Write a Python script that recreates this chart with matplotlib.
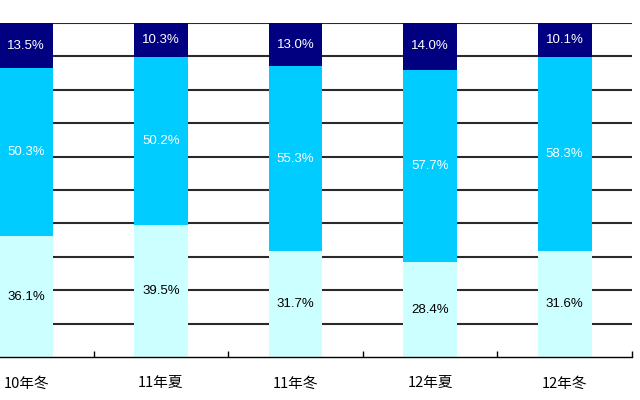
import matplotlib
matplotlib.use('Agg')
import matplotlib.pyplot as plt
import numpy as np

plt.rcParams['font.family'] = ['Noto Sans CJK JP', 'DejaVu Sans']

# データ（%）
categories = ['10年冬', '11年夏', '11年冬', '12年夏', '12年冬']
bottom_vals = [36.1, 39.5, 31.7, 28.4, 31.6]
middle_vals = [50.3, 50.2, 55.3, 57.7, 58.3]
top_vals = [13.5, 10.3, 13.0, 14.0, 10.1]

colors = ['#CCFFFF', '#00CCFF', '#000080']
text_colors = ['black', 'white', 'white']

series = np.array([bottom_vals, middle_vals, top_vals])
# 100%積み上げ
shares = series / series.sum(axis=0) * 100

fig = plt.figure(figsize=(6.4, 4.0), dpi=100)
# 左側は画像外にはみ出している
ax = fig.add_axes([-41 / 640, 1 - 357 / 400, 673 / 640, 334 / 400])

x = np.arange(len(categories))
w = 0.4
base = np.zeros(len(categories))
for i in range(3):
    ax.bar(x, shares[i], w, bottom=base, color=colors[i], zorder=2)
    for j in range(len(categories)):
        ax.text(x[j], base[j] + shares[i][j] / 2, '%.1f%%' % series[i][j],
                ha='center', va='center', fontsize=9.5, color=text_colors[i],
                family=['Liberation Sans', 'DejaVu Sans'], zorder=3)
    base += shares[i]

ax.set_ylim(0, 100)
ax.set_xlim(-0.5, len(categories) - 0.5)
for yv in range(10, 101, 10):
    ax.axhline(yv, color='#2a2a2a', lw=1.5, zorder=1)

for s in ['left', 'right', 'top']:
    ax.spines[s].set_visible(False)
ax.spines['bottom'].set_color('black')
ax.spines['bottom'].set_linewidth(1.0)

ax.set_yticks([])
ax.set_xticks(np.arange(-0.5, len(categories), 1.0))
ax.set_xticklabels([])
ax.set_xticks(x, minor=True)
ax.set_xticklabels(categories, minor=True, fontsize=10.5)
ax.tick_params(axis='x', which='major', direction='in', length=4, width=1)
ax.tick_params(axis='x', which='minor', length=0, pad=14)

fig.savefig('out.png', dpi=100, facecolor='white')
